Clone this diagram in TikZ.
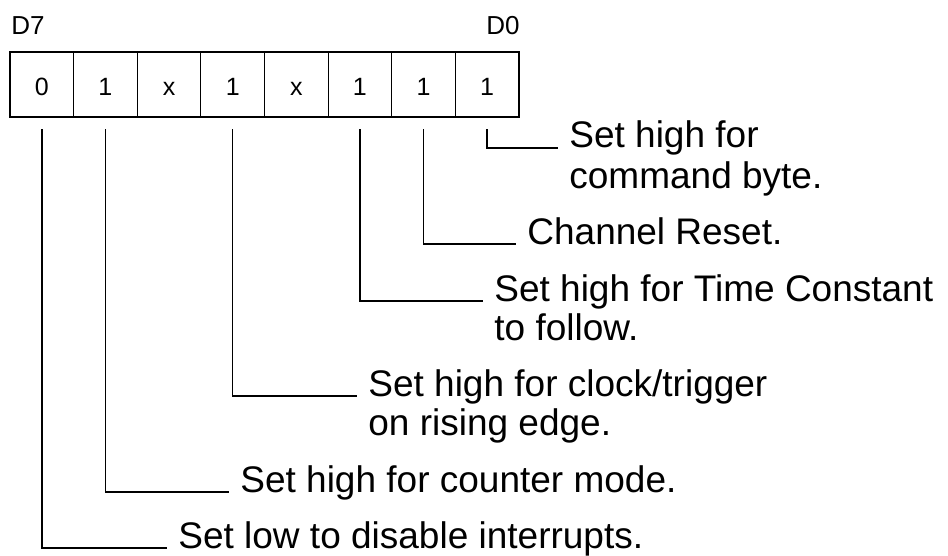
\documentclass[tikz,border=0pt]{standalone}
\usepackage{fontspec}
\setmainfont{Liberation Sans}
\usepackage{tikz}

\begin{document}
\begin{tikzpicture}[x=0.5pt,y=0.5pt,
	bitcell/.style={draw=black,line width=0.5pt,minimum width=31.8pt,minimum height=32pt,text height=11pt,text depth=0pt,font=\fontsize{12.5}{14}\selectfont},
	bitname/.style={font=\fontsize{13}{15}\selectfont},
	note/.style={anchor=base west,inner xsep=5.5pt,font=\fontsize{18.5}{20}\selectfont},
	lead/.style={draw=black,line width=0.75pt}]
				\tikzstyle{every node}+=[inner sep=0pt]
				\useasboundingbox (0,0) rectangle (948,-556);
				\node [bitcell] (b7) at (41.8,-85) {0};
				\node [bitcell] (b6) at (105.4,-85) {1};
				\node [bitcell] (b5) at (169,-85) {x};
				\node [bitcell] (b4) at (232.7,-85) {1};
				\node [bitcell] (b3) at (296.3,-85) {x};
				\node [bitcell] (b2) at (359.9,-85) {1};
				\node [bitcell] (b1) at (423.5,-85) {1};
				\node [bitcell] (b0) at (487.1,-85) {1};
				\draw [black,line width=1pt] (b7.north west) rectangle (b0.south east);
				\node [bitname,anchor=base west] (d7) at (11,-35) {D7};
				\node [bitname,anchor=base east] (d0) at (520,-35) {D0};
				\node [note] (t0) at (558,-148) {Set high for};
				\node [note] (t0b) at ([yshift=-20pt]t0.base west) {command byte.};
				\node [note] (t1) at (516,-244) {Channel Reset.};
				\node [note] (t2) at (483,-301) {Set high for Time Constant};
				\node [note] (t2b) at ([yshift=-19.5pt]t2.base west) {to follow.};
				\node [note] (t4) at (357,-396) {Set high for clock/trigger};
				\node [note] (t4b) at ([yshift=-19.5pt]t4.base west) {on rising edge.};
				\node [note] (t6) at (229,-492) {Set high for counter mode.};
				\node [note] (t7) at (167,-548) {Set low to disable interrupts.};
				\draw [lead] ([yshift=-6pt]b0.south) |- (t0.base west);
				\draw [lead] ([yshift=-6pt]b1.south) |- (t1.base west);
				\draw [lead] ([yshift=-6pt]b2.south) |- (t2.base west);
				\draw [lead] ([yshift=-6pt]b4.south) |- (t4.base west);
				\draw [lead] ([yshift=-6pt]b6.south) |- (t6.base west);
				\draw [lead] ([yshift=-6pt]b7.south) |- (t7.base west);
\end{tikzpicture}
\end{document}
